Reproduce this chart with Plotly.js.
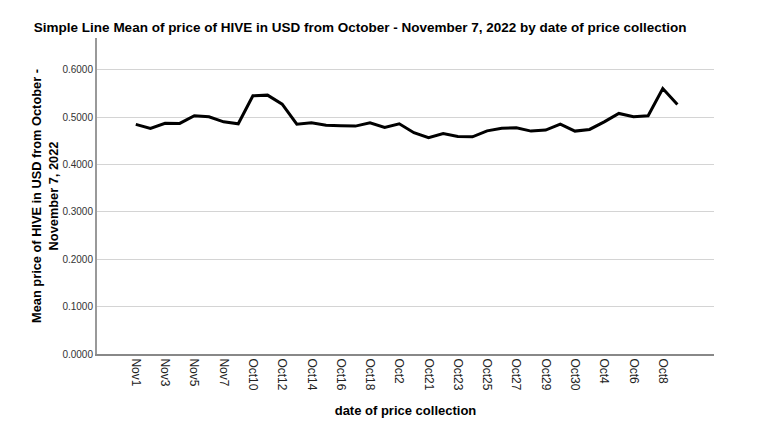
<!DOCTYPE html>
<html>
<head>
<meta charset="utf-8">
<script src="https://cdn.plot.ly/plotly-3.0.1.min.js"></script>
<style>html,body{margin:0;padding:0;background:#fff;}#chart{width:768px;height:440px;}</style>
</head>
<body>
<div id="chart"></div>
<script>
const dates = ["Nov1","Nov2","Nov3","Nov4","Nov5","Nov6","Nov7","Oct1","Oct10","Oct11","Oct12","Oct13","Oct14","Oct15","Oct16","Oct17","Oct18","Oct19","Oct2","Oct20","Oct21","Oct22","Oct23","Oct24","Oct25","Oct26","Oct27","Oct28","Oct29","Oct3","Oct30","Oct31","Oct4","Oct5","Oct6","Oct7","Oct8","Oct9"];
const meanPrice = [0.4846,0.4760,0.4870,0.4867,0.5028,0.5007,0.4900,0.4859,0.5450,0.5464,0.5274,0.4852,0.4882,0.4830,0.4817,0.4810,0.4880,0.4780,0.4860,0.4670,0.4564,0.4655,0.4590,0.4585,0.4710,0.4766,0.4775,0.4705,0.4726,0.4852,0.4705,0.4740,0.4900,0.5078,0.5007,0.5030,0.5605,0.5268];
const yTickVals = [0,0.1,0.2,0.3,0.4,0.5,0.6];
const yTickText = ["0.0000","0.1000","0.2000","0.3000","0.4000","0.5000","0.6000"];

const font = "Liberation Sans, Arial, sans-serif";
Plotly.newPlot("chart", [{
  type: "scatter", mode: "lines",
  x: dates, y: meanPrice,
  line: {color: "#000000", width: 3},
  hoverinfo: "skip"
}], {
  width: 768, height: 440,
  margin: {l: 97, r: 54, t: 38, b: 86},
  paper_bgcolor: "#ffffff", plot_bgcolor: "#ffffff",
  showlegend: false,
  title: {text: "<b>Simple Line Mean of price of HIVE in USD from October - November 7, 2022 by date of price collection</b>",
          font: {family: font, size: 13.5, color: "#000"}, x: 0.469, xanchor: "center", xref: "container", y: 0.938, yanchor: "middle", yref: "container"},
  xaxis: {
    type: "category", range: [-2.65, 39.5],
    tickmode: "linear", tick0: 0, dtick: 2,
    tickangle: 90, ticks: "", showgrid: false,
    showline: true, linecolor: "#888888", linewidth: 2,
    tickfont: {family: font, size: 12, color: "#222"},
    title: {text: "<b>date of price collection</b>", font: {family: font, size: 13, color: "#000"}, standoff: 16},
    zeroline: false
  },
  yaxis: {
    range: [0, 0.667],
    tickmode: "array", tickvals: yTickVals, ticktext: yTickText,
    ticks: "", showgrid: true, gridcolor: "#d4d4d4", gridwidth: 1,
    showline: true, linecolor: "#999999", linewidth: 2,
    tickfont: {family: font, size: 10, color: "#333"},
    title: {text: "<b>Mean price of HIVE in USD from October -<br>November 7, 2022</b>", font: {family: font, size: 12.8, color: "#000"}, standoff: 1},
    zeroline: false
  }
}, {displayModeBar: false, staticPlot: true});
</script>
</body>
</html>
